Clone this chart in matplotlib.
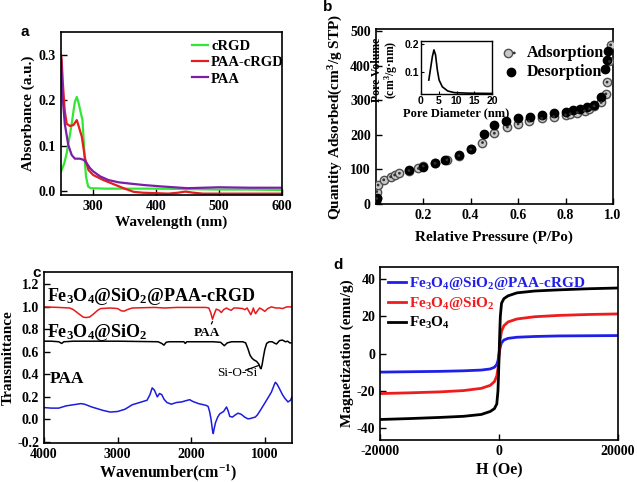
import matplotlib
matplotlib.use("Agg")
import matplotlib.pyplot as plt
from matplotlib.legend_handler import HandlerTuple

plt.rcParams['font.family'] = ['Liberation Serif', 'DejaVu Serif']
plt.rcParams['font.weight'] = 'bold'
plt.rcParams['axes.labelweight'] = 'bold'
plt.rcParams['mathtext.fontset'] = 'custom'
plt.rcParams['mathtext.rm'] = 'Liberation Serif:bold'
plt.rcParams['mathtext.bf'] = 'Liberation Serif:bold'
plt.rcParams['mathtext.it'] = 'Liberation Serif:italic:bold'
plt.rcParams['axes.linewidth'] = 1.2
plt.rcParams['xtick.direction'] = 'in'
plt.rcParams['ytick.direction'] = 'in'

# ---------------- Panel a data ----------------
a_green_x = [250, 251, 255, 259, 263, 267, 270, 272, 275, 277.5, 281, 284, 286.5, 288, 289.7, 293, 297, 301, 320, 350, 400, 450, 500, 550, 600]
a_green_y = [0.043, 0.046, 0.06, 0.083, 0.115, 0.148, 0.178, 0.196, 0.207, 0.196, 0.174, 0.156, 0.097, 0.06, 0.031, 0.0095, 0.006, 0.0058, 0.005, 0.005, 0.005, 0.004, 0.003, 0.003, 0.002]
a_red_x = [250, 251, 253, 255.8, 259, 264, 269.6, 275, 277.5, 283, 288, 293.5, 301, 317, 333, 349, 365, 380, 400, 420, 435, 447, 460, 475, 500, 550, 600]
a_red_y = [0.30, 0.29, 0.236, 0.178, 0.148, 0.143, 0.145, 0.156, 0.145, 0.119, 0.072, 0.046, 0.035, 0.024, 0.015, 0.006, -0.002, -0.004, -0.005, -0.006, -0.004, -0.0015, -0.004, -0.006, -0.006, -0.006, -0.006]
a_purple_x = [250, 252.5, 256, 261.5, 267, 272, 280, 286.5, 290.7, 296, 301, 312, 325, 341, 360, 381, 408, 450, 500, 550, 600]
a_purple_y = [0.295, 0.207, 0.148, 0.101, 0.079, 0.071, 0.071, 0.068, 0.061, 0.05, 0.043, 0.032, 0.024, 0.019, 0.016, 0.013, 0.010, 0.006, 0.008, 0.007, 0.007]
a_labels = ['cRGD', 'PAA-cRGD', 'PAA']
a_xticks = [300, 400, 500, 600]
a_yticks = [0.0, 0.1, 0.2, 0.3]

# ---------------- Panel b data ----------------
ads_x = [0.004, 0.004, 0.01, 0.034, 0.063, 0.08, 0.10, 0.14, 0.18, 0.20, 0.25, 0.30, 0.35, 0.40, 0.45, 0.50, 0.555, 0.60, 0.645, 0.70, 0.75, 0.80, 0.82, 0.85, 0.88, 0.90, 0.92, 0.95, 0.97, 0.975, 0.985, 0.99]
ads_y = [16, 36, 55, 70, 79, 84, 89, 97, 103, 110, 118, 128, 140, 158, 178, 205, 223, 232, 240, 248, 253, 258, 261, 265, 270, 276, 284, 294, 319, 353, 413, 461]
des_x = [0.003, 0.004, 0.14, 0.20, 0.25, 0.29, 0.35, 0.40, 0.455, 0.50, 0.55, 0.60, 0.65, 0.70, 0.75, 0.80, 0.83, 0.86, 0.89, 0.92, 0.95, 0.965, 0.973, 0.98]
des_y = [8, 18, 99, 108, 118, 128, 141, 159, 202, 229, 239, 248, 253, 258, 263, 267, 271, 275, 280, 287, 309, 392, 418, 442]
b_xticks = [0.2, 0.4, 0.6, 0.8, 1.0]
b_yticks = [0, 100, 200, 300, 400, 500]
pore_d = [2.2, 2.7, 3.2, 3.65, 4.1, 4.6, 5.1, 6.0, 7.5, 9.4, 13.3, 20.0]
pore_v = [0.07, 0.112, 0.154, 0.178, 0.16, 0.106, 0.07, 0.046, 0.031, 0.025, 0.023, 0.022]
i_xticks = [0, 5, 10, 15, 20]
i_yticks = [0.1, 0.2]

# ---------------- Panel c data ----------------
c_red_x = [4000, 3800, 3650, 3600, 3530, 3470, 3430, 3380, 3330, 3270, 3230, 3100, 3000, 2950, 2910, 2870, 2800, 2500, 2360, 2200, 1800, 1760, 1735, 1710, 1690, 1660, 1620, 1590, 1560, 1520, 1480, 1455, 1420, 1380, 1300, 1270, 1240, 1215, 1190, 1170, 1155, 1140, 1125, 1100, 1070, 1030, 1000, 960, 910, 850, 800, 760, 700, 630]
c_red_y = [1.0, 0.995, 0.99, 0.975, 0.94, 0.91, 0.905, 0.91, 0.935, 0.97, 0.985, 0.99, 0.985, 0.965, 0.962, 0.975, 0.99, 0.995, 0.99, 0.995, 0.995, 0.99, 0.95, 0.89, 0.93, 0.98, 0.97, 0.95, 0.975, 0.99, 0.975, 0.97, 0.99, 0.99, 0.985, 0.975, 0.99, 0.96, 0.93, 0.96, 0.99, 0.96, 0.94, 0.965, 0.99, 0.975, 0.96, 0.985, 1.0, 0.99, 0.99, 0.985, 1.0, 1.0]
c_blk_x = [4000, 3900, 3800, 3760, 3730, 3600, 3000, 2450, 2400, 2370, 2340, 2300, 2100, 2080, 2060, 1700, 1600, 1550, 1510, 1450, 1300, 1260, 1230, 1200, 1175, 1150, 1110, 1080, 1060, 1050, 1035, 1020, 1000, 975, 940, 900, 860, 840, 800, 760, 720, 690, 660, 630]
c_blk_y = [0.695, 0.695, 0.69, 0.675, 0.69, 0.695, 0.695, 0.69, 0.675, 0.66, 0.685, 0.69, 0.69, 0.675, 0.69, 0.69, 0.685, 0.655, 0.68, 0.69, 0.69, 0.68, 0.63, 0.57, 0.545, 0.53, 0.515, 0.49, 0.455, 0.45, 0.49, 0.55, 0.62, 0.675, 0.69, 0.69, 0.675, 0.67, 0.70, 0.705, 0.69, 0.695, 0.68, 0.68]
c_blue_x = [4000, 3900, 3800, 3700, 3600, 3500, 3450, 3350, 3200, 3100, 3000, 2900, 2800, 2700, 2600, 2560, 2530, 2500, 2460, 2430, 2400, 2370, 2330, 2270, 2200, 2130, 2050, 2020, 1980, 1900, 1800, 1770, 1750, 1730, 1710, 1700, 1690, 1670, 1640, 1610, 1560, 1520, 1500, 1476, 1440, 1400, 1364, 1320, 1273, 1230, 1200, 1160, 1130, 1100, 1046, 978, 910, 870, 856, 830, 798, 760, 730, 685, 650, 630]
c_blue_y = [0.105, 0.1, 0.1, 0.12, 0.13, 0.14, 0.135, 0.11, 0.08, 0.065, 0.07, 0.09, 0.13, 0.15, 0.17, 0.22, 0.28, 0.26, 0.2, 0.23, 0.22, 0.18, 0.15, 0.135, 0.15, 0.155, 0.17, 0.175, 0.16, 0.14, 0.125, 0.115, 0.07, 0.0, -0.1, -0.126, -0.09, -0.03, 0.02, 0.05, 0.07, 0.11, 0.08, 0.027, 0.02, 0.04, 0.055, 0.045, 0.02, 0.005, 0.007, 0.015, 0.02, 0.04, 0.095, 0.168, 0.242, 0.31, 0.33, 0.31, 0.27, 0.22, 0.19, 0.155, 0.17, 0.2]
c_labels = ['Fe$_3$O$_4$@SiO$_2$@PAA-cRGD', 'Fe$_3$O$_4$@SiO$_2$', 'PAA']
c_xticks = [4000, 3000, 2000, 1000]
c_yticks = [-0.2, 0.0, 0.2, 0.4, 0.6, 0.8, 1.0, 1.2]

# ---------------- Panel d data ----------------
d_H = [-20000, -15000, -10000, -6000, -3000, -1500, -800, -400, -200, -100, 0, 100, 200, 400, 800, 1500, 3000, 6000, 10000, 15000, 20000]
d_fe3o4 = [-35.3, -34.8, -34.2, -33.6, -32.6, -31.0, -29.5, -27.0, -20.0, -11.0, 0, 11.0, 20.0, 27.0, 29.5, 31.0, 32.6, 33.6, 34.2, 34.8, 35.2]
d_sio2 = [-21.4, -21.0, -20.5, -19.8, -18.6, -17.0, -15.0, -12.0, -8.0, -4.5, 0, 4.5, 8.0, 12.0, 15.0, 17.0, 18.6, 19.8, 20.5, 21.0, 21.3]
d_crgd = [-9.9, -9.7, -9.5, -9.2, -8.8, -8.2, -7.3, -5.8, -3.8, -2.0, 0, 2.0, 3.8, 5.8, 7.3, 8.2, 8.8, 9.2, 9.5, 9.6, 9.7]
d_labels = ['Fe$_3$O$_4$@SiO$_2$@PAA-cRGD', 'Fe$_3$O$_4$@SiO$_2$', 'Fe$_3$O$_4$']
d_xticks = [-20000, 0, 20000]
d_yticks = [-40, -20, 0, 20, 40]

fig = plt.figure(figsize=(6.37, 4.82), dpi=100)
W, H = 637.0, 482.0

def axbox(x0, y0, x1, y1):
    return [x0 / W, 1 - y1 / H, (x1 - x0) / W, (y1 - y0) / H]

tick_kw = dict(width=1, length=4)

def set_ticks(ax, xt, yt, xfmt, yfmt, size=10, family=None):
    kw = dict(fontweight='bold', fontsize=size)
    if family:
        kw['family'] = family
    ax.set_xticks(xt, [xfmt.format(v) for v in xt], **kw)
    ax.set_yticks(yt, [yfmt.format(v) for v in yt], **kw)

# ---- a ----
axa = fig.add_axes(axbox(61, 32, 282, 195))
axa.plot(a_green_x, a_green_y, color='#33e633', lw=1.6, label=a_labels[0])
axa.plot(a_red_x, a_red_y, color='#e41e1e', lw=1.6, label=a_labels[1])
axa.plot(a_purple_x, a_purple_y, color='#7b1fa8', lw=1.6, label=a_labels[2])
axa.set_xlim(250, 600)
axa.set_ylim(-0.009, 0.35)
set_ticks(axa, a_xticks, a_yticks, '{:d}', '{:.1f}')
axa.tick_params(**tick_kw)
axa.set_xlabel('Wavelength (nm)', fontsize=11, labelpad=2)
axa.set_ylabel('Absorbance (a.u.)', fontsize=11, labelpad=3)
axa.legend(loc='upper left', bbox_to_anchor=(0.56, 0.995), frameon=False, fontsize=10.5,
           handlelength=1.1, handletextpad=0.2, labelspacing=0.2, borderpad=0)
fig.text(25 / W, 1 - 32 / H, 'a', family='Liberation Sans', fontsize=11, weight='bold', va='center', ha='center')

# ---- b ----
axb = fig.add_axes(axbox(375.7, 29.3, 613, 204))
h1 = axb.scatter(ads_x, ads_y, s=36, facecolor='#c8c8c8', edgecolor='#505050', linewidths=1.0, zorder=3)
h1b = axb.scatter(ads_x, ads_y, s=4, facecolor='#303030', edgecolor='none', zorder=4)
h2 = axb.scatter(des_x, des_y, s=36, facecolor='black', edgecolor='black', zorder=3)
axb.set_xlim(0, 1.0)
axb.set_ylim(0, 506)
set_ticks(axb, b_xticks, b_yticks, '{:.1f}', '{:d}')
axb.tick_params(**tick_kw)
axb.set_xlabel('Relative Pressure (P/Po)', fontsize=11, labelpad=6)
axb.set_ylabel('Quantity Adsorbed(cm$^3$/g STP)', fontsize=11, labelpad=4)
axb.legend([(h1, h1b), h2], ['Adsorption', 'Desorption'], handler_map={tuple: HandlerTuple(ndivide=None, pad=0)},
           loc='upper left', bbox_to_anchor=(0.51, 0.955), frameon=False, fontsize=11.5,
           handlelength=0.8, handletextpad=0.6, labelspacing=0.2, borderpad=0)
fig.text(328 / W, 1 - 7 / H, 'b', family='Liberation Sans', fontsize=11, weight='bold', va='center', ha='center')

# inset
axi = fig.add_axes(axbox(421, 40.7, 492, 94.3))
axi.plot(pore_d, pore_v, color='black', lw=1.2)
axi.set_xlim(0, 20)
axi.set_ylim(0.019, 0.211)
set_ticks(axi, i_xticks, i_yticks, '{:d}', '{:.1f}', size=7.5, family='Liberation Sans')
axi.tick_params(width=0.8, length=2.5, pad=1)
for s in axi.spines.values():
    s.set_linewidth(1.0)
axi.set_xlabel('Pore Diameter (nm)', fontsize=9, labelpad=1)
axi.set_ylabel('Pore Volume\n(cm$^3$/g·nm)', fontsize=8.5, linespacing=0.95)
axi.yaxis.set_label_coords(-0.30, 0.45)

# ---- c ----
axc = fig.add_axes(axbox(44, 272, 292, 443))
axc.plot(c_red_x, c_red_y, color='#e8191b', lw=1.1)
axc.plot(c_blk_x, c_blk_y, color='black', lw=1.1)
axc.plot(c_blue_x, c_blue_y, color='#1c1ce0', lw=1.1)
axc.set_xlim(4000, 630)
axc.set_ylim(-0.21, 1.31)
set_ticks(axc, c_xticks, c_yticks, '{:d}', '{:.1f}')
axc.tick_params(**tick_kw)
axc.set_xlabel('Wavenumber(cm$^{-1}$)', fontsize=11.5, labelpad=1)
axc.set_ylabel('Transmittance', fontsize=11, labelpad=2)
axc.text(3963, 1.052, c_labels[0], fontsize=13, weight='bold', va='baseline', ha='left')
axc.text(3963, 0.728, c_labels[1], fontsize=13, weight='bold', va='baseline', ha='left')
axc.text(3919, 0.319, c_labels[2], fontsize=12.5, weight='bold', va='baseline', ha='left')
axc.annotate('PAA', xy=(1710, 0.87), xytext=(1780, 0.77), fontsize=9.5, weight='bold',
             ha='center', va='center', arrowprops=dict(arrowstyle='-', lw=0.9, color='black', shrinkA=5, shrinkB=0))
axc.annotate('Si-O-Si', xy=(1080, 0.48), xytext=(1370, 0.41), fontsize=9.5, weight='normal',
             ha='center', va='center', arrowprops=dict(arrowstyle='-', lw=0.9, color='black', shrinkA=6, shrinkB=0))
fig.text(37 / W, 1 - 273 / H, 'c', family='Liberation Sans', fontsize=11, weight='bold', va='center', ha='center')

# ---- d ----
axd = fig.add_axes(axbox(380.3, 267.3, 618, 440))
axd.plot(d_H, d_crgd, color='#1f1fe8', lw=2.0, label=d_labels[0])
axd.plot(d_H, d_sio2, color='#ee1c1c', lw=2.0, label=d_labels[1])
axd.plot(d_H, d_fe3o4, color='black', lw=2.0, label=d_labels[2])
axd.set_xlim(-20000, 20000)
axd.set_ylim(-46.3, 46.3)
set_ticks(axd, d_xticks, d_yticks, '{:d}', '{:d}')
axd.tick_params(**tick_kw)
axd.set_xlabel('H (Oe)', fontsize=11.5, labelpad=3)
axd.set_ylabel('Magnetization (emu/g)', fontsize=11, labelpad=2)
leg = axd.legend(loc='upper left', bbox_to_anchor=(0.0, 1.0), frameon=False, fontsize=11,
                 handlelength=1.2, handletextpad=0.15, labelspacing=0.2, borderpad=0)
for t, c in zip(leg.get_texts(), ['#1f1fe8', '#ee1c1c', 'black']):
    t.set_color(c)
fig.text(338 / W, 1 - 265 / H, 'd', family='Liberation Sans', fontsize=11, weight='bold', va='center', ha='center')

fig.savefig('out.png', dpi=100)
